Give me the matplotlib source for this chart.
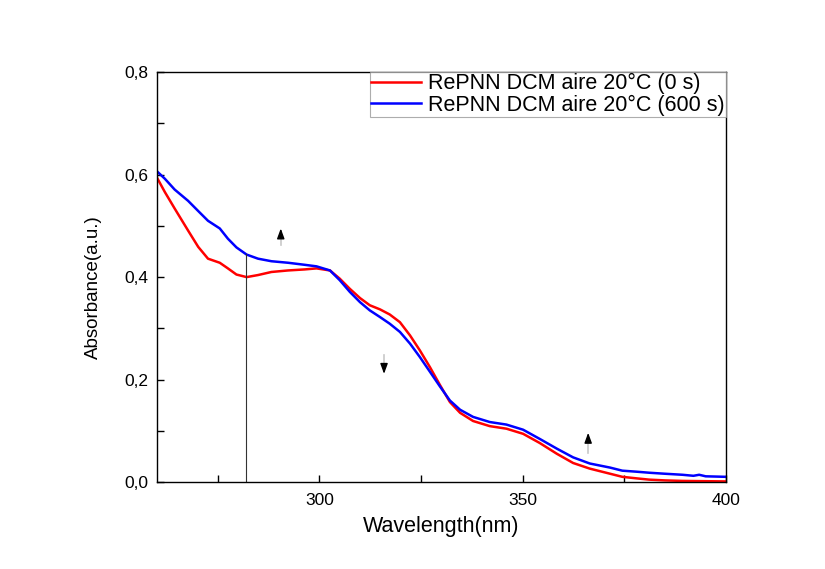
import numpy as np
import matplotlib
matplotlib.use("Agg")
import matplotlib.pyplot as plt
from matplotlib.ticker import MultipleLocator, FuncFormatter

plt.rcParams['font.family'] = ['Liberation Sans', 'DejaVu Sans']

# spectra
wl_0s = [260, 262, 264.4, 267.7, 270.2, 272.6, 275.5, 277.5, 279.6, 282.1, 284.9, 288.2,
         292.3, 296.4, 299.3, 302.6, 305, 307.5, 310, 312.4, 314.9, 317.3, 319.8, 322.3,
         324.7, 327.2, 329.6, 332.1, 334.6, 337.8, 341.9, 346, 350.1, 354.2, 358.4,
         362.4, 366.5, 371.5, 374.5, 378, 381.1, 385, 389.3, 400]
abs_0s = [0.595, 0.566, 0.534, 0.491, 0.459, 0.436, 0.428, 0.417, 0.405, 0.400, 0.404, 0.410,
          0.413, 0.415, 0.417, 0.413, 0.397, 0.377, 0.359, 0.345, 0.337, 0.327, 0.312, 0.286,
          0.257, 0.224, 0.190, 0.156, 0.135, 0.119, 0.109, 0.104, 0.094, 0.076, 0.055,
          0.037, 0.026, 0.016, 0.010, 0.007, 0.0045, 0.003, 0.002, 0.001]

wl_600s = [260, 262, 264.4, 267.7, 270.2, 272.6, 275.5, 277.5, 279.6, 282.1, 284.9, 288.2,
           292.3, 296.4, 299.3, 302.6, 305, 307.5, 310, 312.4, 314.9, 317.3, 319.8, 322.3,
           324.7, 327.2, 329.6, 332.1, 334.6, 337.8, 341.9, 346, 350.1, 354.2, 358.4,
           362.4, 366.5, 371.5, 374.5, 378, 381.1, 385, 389.3, 392, 393.4, 395, 400]
abs_600s = [0.607, 0.592, 0.571, 0.549, 0.529, 0.510, 0.495, 0.475, 0.458, 0.444, 0.436, 0.431,
            0.428, 0.424, 0.421, 0.413, 0.394, 0.371, 0.351, 0.335, 0.322, 0.309, 0.293, 0.270,
            0.244, 0.215, 0.187, 0.159, 0.141, 0.127, 0.117, 0.112, 0.102, 0.084, 0.065,
            0.048, 0.036, 0.028, 0.022, 0.020, 0.018, 0.016, 0.014, 0.012, 0.014, 0.011, 0.010]

# marker line and arrows (tail, tip)
mark_wl = 282
mark_top = 0.445
arrows = [((290.5, 0.462), (290.5, 0.495)),
          ((315.9, 0.248), (315.9, 0.211)),
          ((366.1, 0.057), (366.1, 0.096))]

fig = plt.figure(figsize=(8.25, 5.69), dpi=100)
ax = fig.add_axes([0.19, 0.153, 0.69, 0.72])

ax.plot(wl_0s, abs_0s, color='#ff0000', lw=1.8, label='RePNN DCM aire 20°C (0 s)')
ax.plot(wl_600s, abs_600s, color='#0000ff', lw=1.8, label='RePNN DCM aire 20°C (600 s)')

ax.plot([mark_wl, mark_wl], [0, mark_top], color='#333333', lw=0.8)

for (tx, ty), (hx, hy) in arrows:
    # faded tail, black head
    mx = tx + (hx - tx) * 0.55
    my = ty + (hy - ty) * 0.55
    ax.plot([tx, mx], [ty, my], color='#c8c8c8', lw=1.2)
    ax.annotate('', xy=(hx, hy), xytext=(mx, my),
                arrowprops=dict(arrowstyle='-|>,head_length=0.6,head_width=0.22',
                                color='black', lw=1.0, shrinkA=0, shrinkB=0))

ax.set_xlim(260, 400)
ax.set_ylim(0, 0.8)
ax.xaxis.set_major_locator(MultipleLocator(50))
ax.xaxis.set_minor_locator(MultipleLocator(25))
ax.yaxis.set_major_locator(MultipleLocator(0.2))
ax.yaxis.set_minor_locator(MultipleLocator(0.1))
ax.yaxis.set_major_formatter(FuncFormatter(lambda v, p: f"{v:.1f}".replace('.', ',')))
ax.tick_params(which='both', direction='in', length=5, width=1.0, labelsize=12.5,
               top=False, right=False)
ax.tick_params(axis='x', pad=8)
ax.tick_params(axis='y', pad=6)
for s in ax.spines.values():
    s.set_linewidth(1.0)

ax.set_xlabel('Wavelength(nm)', fontsize=15.5, labelpad=6)
ax.set_ylabel('Absorbance(a.u.)', fontsize=13.5)
ax.yaxis.set_label_coords(-0.097, 0.475)

leg = ax.legend(loc='upper right', fontsize=15.5, frameon=True, fancybox=False,
                edgecolor='#999999', borderaxespad=0.0, handlelength=2.3,
                handletextpad=0.35, borderpad=0.05, labelspacing=0.0)
leg.get_frame().set_linewidth(0.8)

fig.savefig('out.png', dpi=100)
